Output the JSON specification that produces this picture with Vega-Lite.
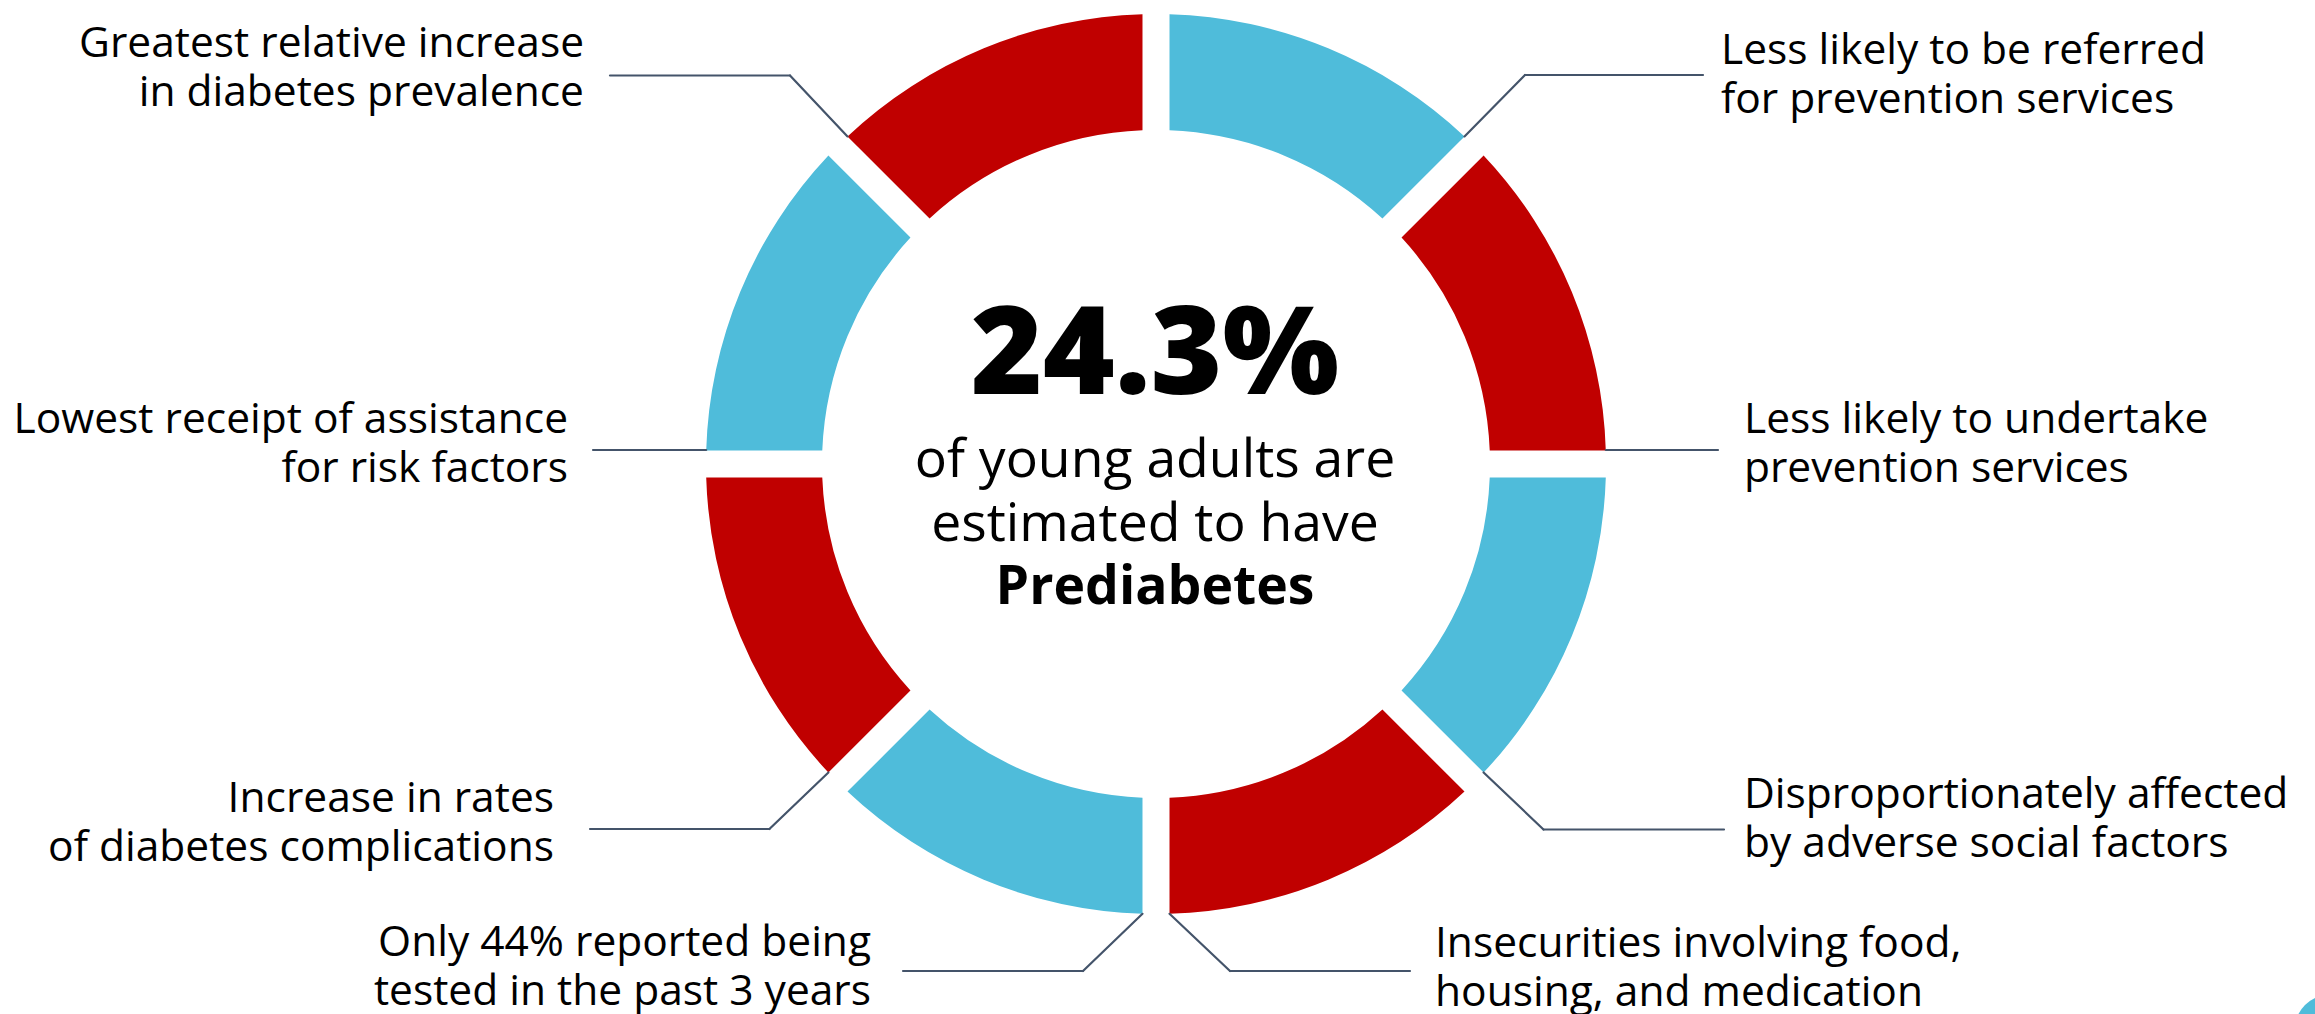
{
  "$schema": "https://vega.github.io/schema/vega-lite/v6.json",
  "width": 2315,
  "height": 1014,
  "autosize": {"type": "none"},
  "padding": 0,
  "background": "white",
  "config": {
    "view": {"stroke": null},
    "axis": {"disable": true},
    "legend": {"disable": true},
    "text": {"font": "Open Sans", "color": "#000000"}
  },
  "datasets": {
    "segments": [
      {"seg": 1, "value": 1, "series": "Series A", "label": "Less likely to be referred\nfor prevention services"},
      {"seg": 2, "value": 1, "series": "Series B", "label": "Less likely to undertake\nprevention services"},
      {"seg": 3, "value": 1, "series": "Series A", "label": "Disproportionately affected\nby adverse social factors"},
      {"seg": 4, "value": 1, "series": "Series B", "label": "Insecurities involving food,\nhousing, and medication"},
      {"seg": 5, "value": 1, "series": "Series A", "label": "Only 44% reported being\ntested in the past 3 years"},
      {"seg": 6, "value": 1, "series": "Series B", "label": "Increase in rates\nof diabetes complications"},
      {"seg": 7, "value": 1, "series": "Series A", "label": "Lowest receipt of assistance\nfor risk factors"},
      {"seg": 8, "value": 1, "series": "Series B", "label": "Greatest relative increase\nin diabetes prevalence"}
    ],
    "one": [{"k": 1}]
  },
  "layer": [
    {
      "data": {"name": "segments"},
      "mark": {"type": "arc", "radius": 450, "radius2": 334, "padAngle": 0.0482},
      "encoding": {
        "x": {"datum": 0, "type": "quantitative", "scale": {"domain": [-1156, 1159], "nice": false, "zero": false}, "axis": null},
        "y": {"datum": 0, "type": "quantitative", "scale": {"domain": [-550, 464], "nice": false, "zero": false}, "axis": null},
        "theta": {"field": "value", "type": "quantitative", "stack": true},
        "order": {"field": "seg", "type": "quantitative"},
        "color": {"field": "series", "type": "nominal", "scale": {"domain": ["Series A", "Series B"], "range": ["#4FBCDA", "#C00000"]}, "legend": null}
      }
    },
    {"data": {"name": "one"}, "mark": {"type": "point", "filled": true, "opacity": 1, "color": "#4FBCDA", "size": 5000}, "encoding": {"x": {"datum": 1174, "type": "quantitative"}, "y": {"datum": -566, "type": "quantitative"}}},

    {"data": {"name": "one"}, "mark": {"type": "rule", "color": "#44546A", "strokeWidth": 2.2, "strokeCap": "round"}, "encoding": {"x": {"datum": 308.5, "type": "quantitative"}, "y": {"datum": 327.6, "type": "quantitative"}, "x2": {"datum": 369}, "y2": {"datum": 389}}},
    {"data": {"name": "one"}, "mark": {"type": "rule", "color": "#44546A", "strokeWidth": 2.2, "strokeCap": "round"}, "encoding": {"x": {"datum": 369, "type": "quantitative"}, "y": {"datum": 389, "type": "quantitative"}, "x2": {"datum": 547}, "y2": {"datum": 389}}},
    {"data": {"name": "one"}, "mark": {"type": "rule", "color": "#44546A", "strokeWidth": 2.2, "strokeCap": "round"}, "encoding": {"x": {"datum": 449.8, "type": "quantitative"}, "y": {"datum": 14, "type": "quantitative"}, "x2": {"datum": 562}, "y2": {"datum": 14}}},
    {"data": {"name": "one"}, "mark": {"type": "rule", "color": "#44546A", "strokeWidth": 2.2, "strokeCap": "round"}, "encoding": {"x": {"datum": 327.6, "type": "quantitative"}, "y": {"datum": -308.5, "type": "quantitative"}, "x2": {"datum": 387.5}, "y2": {"datum": -365.5}}},
    {"data": {"name": "one"}, "mark": {"type": "rule", "color": "#44546A", "strokeWidth": 2.2, "strokeCap": "round"}, "encoding": {"x": {"datum": 387.5, "type": "quantitative"}, "y": {"datum": -365.5, "type": "quantitative"}, "x2": {"datum": 568}, "y2": {"datum": -365.5}}},
    {"data": {"name": "one"}, "mark": {"type": "rule", "color": "#44546A", "strokeWidth": 2.2, "strokeCap": "round"}, "encoding": {"x": {"datum": 13.5, "type": "quantitative"}, "y": {"datum": -449.8, "type": "quantitative"}, "x2": {"datum": 74}, "y2": {"datum": -507}}},
    {"data": {"name": "one"}, "mark": {"type": "rule", "color": "#44546A", "strokeWidth": 2.2, "strokeCap": "round"}, "encoding": {"x": {"datum": 74, "type": "quantitative"}, "y": {"datum": -507, "type": "quantitative"}, "x2": {"datum": 254}, "y2": {"datum": -507}}},
    {"data": {"name": "one"}, "mark": {"type": "rule", "color": "#44546A", "strokeWidth": 2.2, "strokeCap": "round"}, "encoding": {"x": {"datum": -13.5, "type": "quantitative"}, "y": {"datum": -449.8, "type": "quantitative"}, "x2": {"datum": -73}, "y2": {"datum": -507}}},
    {"data": {"name": "one"}, "mark": {"type": "rule", "color": "#44546A", "strokeWidth": 2.2, "strokeCap": "round"}, "encoding": {"x": {"datum": -73, "type": "quantitative"}, "y": {"datum": -507, "type": "quantitative"}, "x2": {"datum": -253}, "y2": {"datum": -507}}},
    {"data": {"name": "one"}, "mark": {"type": "rule", "color": "#44546A", "strokeWidth": 2.2, "strokeCap": "round"}, "encoding": {"x": {"datum": -327.6, "type": "quantitative"}, "y": {"datum": -308.5, "type": "quantitative"}, "x2": {"datum": -386.6}, "y2": {"datum": -365}}},
    {"data": {"name": "one"}, "mark": {"type": "rule", "color": "#44546A", "strokeWidth": 2.2, "strokeCap": "round"}, "encoding": {"x": {"datum": -386.6, "type": "quantitative"}, "y": {"datum": -365, "type": "quantitative"}, "x2": {"datum": -566}, "y2": {"datum": -365}}},
    {"data": {"name": "one"}, "mark": {"type": "rule", "color": "#44546A", "strokeWidth": 2.2, "strokeCap": "round"}, "encoding": {"x": {"datum": -449.8, "type": "quantitative"}, "y": {"datum": 14, "type": "quantitative"}, "x2": {"datum": -563}, "y2": {"datum": 14}}},
    {"data": {"name": "one"}, "mark": {"type": "rule", "color": "#44546A", "strokeWidth": 2.2, "strokeCap": "round"}, "encoding": {"x": {"datum": -308.5, "type": "quantitative"}, "y": {"datum": 327.6, "type": "quantitative"}, "x2": {"datum": -366}, "y2": {"datum": 388.5}}},
    {"data": {"name": "one"}, "mark": {"type": "rule", "color": "#44546A", "strokeWidth": 2.2, "strokeCap": "round"}, "encoding": {"x": {"datum": -366, "type": "quantitative"}, "y": {"datum": 388.5, "type": "quantitative"}, "x2": {"datum": -546}, "y2": {"datum": 388.5}}},

    {"data": {"name": "segments"}, "transform": [{"filter": "datum.seg == 1"}], "mark": {"type": "text", "align": "left", "baseline": "alphabetic", "fontSize": 42.5, "lineHeight": 48.5, "lineBreak": "\n"}, "encoding": {"x": {"datum": 565, "type": "quantitative"}, "y": {"datum": 400, "type": "quantitative"}, "text": {"field": "label", "type": "nominal"}}},
    {"data": {"name": "segments"}, "transform": [{"filter": "datum.seg == 2"}], "mark": {"type": "text", "align": "left", "baseline": "alphabetic", "fontSize": 42.5, "lineHeight": 48.5, "lineBreak": "\n"}, "encoding": {"x": {"datum": 588, "type": "quantitative"}, "y": {"datum": 31, "type": "quantitative"}, "text": {"field": "label", "type": "nominal"}}},
    {"data": {"name": "segments"}, "transform": [{"filter": "datum.seg == 3"}], "mark": {"type": "text", "align": "left", "baseline": "alphabetic", "fontSize": 42.5, "lineHeight": 48.5, "lineBreak": "\n"}, "encoding": {"x": {"datum": 588, "type": "quantitative"}, "y": {"datum": -344, "type": "quantitative"}, "text": {"field": "label", "type": "nominal"}}},
    {"data": {"name": "segments"}, "transform": [{"filter": "datum.seg == 4"}], "mark": {"type": "text", "align": "left", "baseline": "alphabetic", "fontSize": 42.5, "lineHeight": 48.5, "lineBreak": "\n"}, "encoding": {"x": {"datum": 279, "type": "quantitative"}, "y": {"datum": -493, "type": "quantitative"}, "text": {"field": "label", "type": "nominal"}}},
    {"data": {"name": "segments"}, "transform": [{"filter": "datum.seg == 5"}], "mark": {"type": "text", "align": "right", "baseline": "alphabetic", "fontSize": 42.5, "lineHeight": 48.5, "lineBreak": "\n"}, "encoding": {"x": {"datum": -285, "type": "quantitative"}, "y": {"datum": -492, "type": "quantitative"}, "text": {"field": "label", "type": "nominal"}}},
    {"data": {"name": "segments"}, "transform": [{"filter": "datum.seg == 6"}], "mark": {"type": "text", "align": "right", "baseline": "alphabetic", "fontSize": 42.5, "lineHeight": 48.5, "lineBreak": "\n"}, "encoding": {"x": {"datum": -602, "type": "quantitative"}, "y": {"datum": -348, "type": "quantitative"}, "text": {"field": "label", "type": "nominal"}}},
    {"data": {"name": "segments"}, "transform": [{"filter": "datum.seg == 7"}], "mark": {"type": "text", "align": "right", "baseline": "alphabetic", "fontSize": 42.5, "lineHeight": 48.5, "lineBreak": "\n"}, "encoding": {"x": {"datum": -588, "type": "quantitative"}, "y": {"datum": 31, "type": "quantitative"}, "text": {"field": "label", "type": "nominal"}}},
    {"data": {"name": "segments"}, "transform": [{"filter": "datum.seg == 8"}], "mark": {"type": "text", "align": "right", "baseline": "alphabetic", "fontSize": 42.5, "lineHeight": 48.5, "lineBreak": "\n"}, "encoding": {"x": {"datum": -572, "type": "quantitative"}, "y": {"datum": 407, "type": "quantitative"}, "text": {"field": "label", "type": "nominal"}}},

    {"data": {"name": "one"}, "mark": {"type": "text", "align": "center", "baseline": "alphabetic", "fontSize": 123, "fontWeight": 800}, "encoding": {"x": {"datum": -1, "type": "quantitative"}, "y": {"datum": 70, "type": "quantitative"}, "text": {"value": "24.3%"}}},
    {"data": {"name": "one"}, "mark": {"type": "text", "align": "center", "baseline": "alphabetic", "fontSize": 53.5, "lineHeight": 63.5, "lineBreak": "\n"}, "encoding": {"x": {"datum": -1, "type": "quantitative"}, "y": {"datum": -13, "type": "quantitative"}, "text": {"value": "of young adults are\nestimated to have"}}},
    {"data": {"name": "one"}, "mark": {"type": "text", "align": "center", "baseline": "alphabetic", "fontSize": 53.5, "fontWeight": "bold"}, "encoding": {"x": {"datum": -1, "type": "quantitative"}, "y": {"datum": -139.5, "type": "quantitative"}, "text": {"value": "Prediabetes"}}}
  ]
}
